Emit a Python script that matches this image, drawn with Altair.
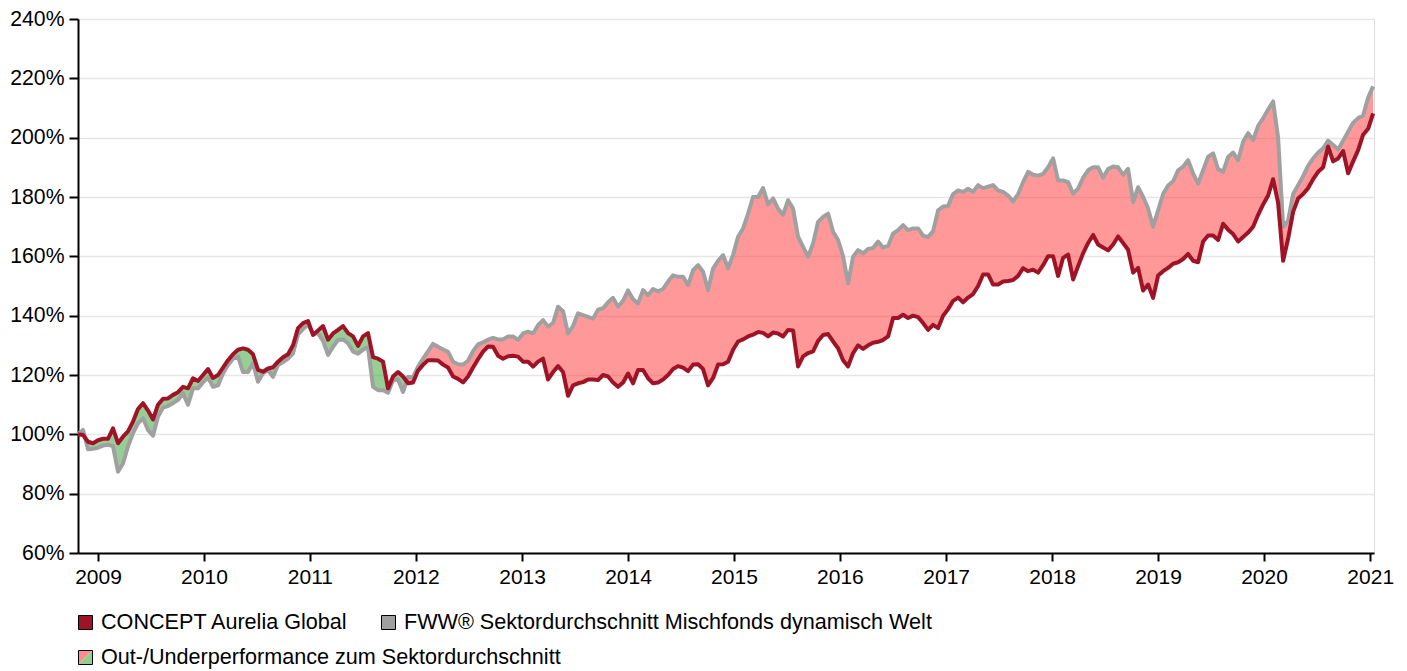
import altair as alt
import pandas as pd
import numpy as np

# ---- data (index levels in %) ----
START_DATE = "2008-10-24"
END_DATE = "2021-01-11"

fund = [  # CONCEPT Aurelia Global
    100, 99.8, 97.5, 97, 98, 98.5, 98.5, 102, 97, 99.2, 101, 104.3, 108.5, 110.5, 108, 105, 110, 112, 112.1, 113.3,
    114.2, 116, 115.5, 118.9, 118, 120, 122, 119, 120, 122.5, 125, 127, 128.5, 129, 128.5, 127, 121.7, 121.1, 122.2, 122.6,
    124.5, 126, 127, 130,
    135.8, 137.5, 138.2, 133.5, 135, 136.5, 131.9, 134, 135.2, 136.5, 134.1, 133, 129.8, 133, 134.1, 126, 125.5, 124.5, 115.5, 119.5,
    121, 119.5, 117.2, 117.5, 121.5, 123.4, 125, 125, 124.9, 123.5, 122.5, 119.5, 118.7, 117.5, 119.5, 122.5, 125.3, 127.9, 129.6, 129.5,
    126.5, 125.5, 126.3, 126.5,
    126.2, 124.5, 124.5, 122.8, 124.5, 125.5, 118.5, 121, 123, 121, 113, 116.5, 117.2, 117.6, 118.5, 118.5, 118.3, 120, 119.5, 117.5,
    116, 117.5, 120.5, 117.2, 121.7, 121.7, 118.9, 117.2, 117.5, 118.5, 120, 122, 123, 122.5, 121.3, 123.5, 123.6, 122, 116.5, 119,
    123.5, 123.6, 124.5, 128.5,
    131.3, 132, 133, 133.6, 134.5, 134.2, 133, 134.3, 134, 133, 135.2, 135, 122.9, 126.3, 127.4, 128, 131.5, 133.5, 133.8, 131.3,
    129, 125, 122.9, 127.4, 130, 128.8, 130, 130.9, 131.2, 131.8, 133, 139.2, 139.2, 140.3, 139.2, 140, 139.5, 137.5, 135.2, 136.9,
    135.8, 140, 142.2, 145,
    146.1, 144.5, 146.1, 147.3, 150, 153.9, 153.9, 150.5, 150.5, 151.5, 151.7, 152, 153.4, 156, 155, 155.5, 154.5, 157, 160, 160,
    153.4, 159.5, 160.6, 152.2, 156.7, 161, 164.5, 167.2, 164, 163, 162, 164, 166.7, 164.5, 162.2, 154.5, 156.1, 148.5, 150.5, 146,
    153.5, 155, 156.1, 157.5,
    158, 159.1, 160.8, 158.5, 158, 165, 167, 167, 165.5, 171, 169, 167.5, 165, 166.5, 168, 170, 174, 177.5, 180.5, 186,
    178, 158.5, 166, 175, 179.5, 181, 183, 186, 188.5, 190, 197, 192, 193, 195.5, 188, 192, 195.8, 201, 203, 208.2,
]

sector = [  # FWW Sektordurchschnitt Mischfonds dynamisch Welt
    100, 101.5, 95, 95.1, 95.5, 96.2, 96.5, 96, 87.4, 90.2, 95.9, 100.4, 103.7, 105.4, 101.5, 99.5, 106, 109, 109.5, 110.5,
    111.6, 113.8, 110, 115.5, 115.5, 117.5, 119.2, 116, 116.5, 120.5, 123.4, 125.5, 126.2, 121, 121, 124, 117.7, 120.6, 121.7, 119.4,
    123.4, 124.3, 125.5, 127.3,
    133.6, 135.5, 137, 134, 134, 131.5, 126.8, 129.5, 131.8, 132, 130.7, 127.9, 127.2, 128.5, 129.3, 116, 114.9, 114.9, 114, 118.2,
    118.5, 114.3, 119.4, 119.2, 122.8, 125.5, 128, 130.5, 129.5, 128.6, 127.8, 124.5, 123.6, 123.5, 124.8, 128, 130.3, 131, 131.9, 132.5,
    132, 132, 133, 133,
    131.8, 134, 134.6, 134, 136.8, 138.5, 136.3, 137.5, 143, 141.5, 134, 136.5, 140.8, 140.2, 139.6, 139, 142, 142.5, 144.5, 146,
    143, 145, 148.5, 145.5, 144.1, 148.6, 146.9, 149, 148.2, 149, 151.5, 153.6, 153.1, 153.1, 150.3, 155.3, 157, 154.8, 148.6, 155.9,
    158.5, 160.4, 156, 160.5,
    166.6, 169.4, 174.4, 180, 180, 183, 177.5, 179.5, 176, 174, 178.9, 176.1, 166.6, 163.2, 159.9, 164.3, 171.6, 173.3, 174.4, 168.3,
    165.5, 160, 150.9, 159.9, 162.1, 161, 162.5, 162.8, 165, 163, 163.5, 167.7, 168.8, 170.5, 168.8, 169.4, 169.4, 167, 166.5, 168.5,
    175.5, 176.8, 177, 181,
    182.2, 181.7, 182.8, 181.7, 184, 183, 183.5, 184, 182.2, 181.7, 180.5, 178.5, 181, 185, 188.5, 187.5, 187.2, 187.8, 190, 193,
    185.6, 185.6, 185, 181.1, 182.8, 186.5, 189, 190, 190, 186.5, 189.4, 190.3, 190, 187.5, 189.5, 178.3, 183.3, 180, 176.1, 170,
    175.5, 181, 183.9, 185.3,
    189, 190.2, 192.4, 187.9, 184.5, 189, 193.6, 194.7, 189.4, 188.5, 193.5, 195, 192.4, 198.6, 201.5, 199.2, 204, 206.5, 209.5, 212.2,
    200, 170, 172, 181, 184, 187, 190.5, 193, 195, 196.4, 199, 197.5, 196, 199, 202, 205, 206.6, 207.5, 213.5, 217.3,
]

year_ticks = [f"{y}-01-01" for y in range(2009, 2022)]
y_ticks = [60, 80, 100, 120, 140, 160, 180, 200, 220, 240]

label_fund = "CONCEPT Aurelia Global"
label_sector = "FWW® Sektordurchschnitt Mischfonds dynamisch Welt"
label_diff = "Out-/Underperformance zum Sektordurchschnitt"

# ---- build tables ----
dates = pd.date_range(START_DATE, END_DATE, periods=len(fund))
lines = pd.DataFrame({"date": dates, "fund": fund, "sector": sector})

# band between the two lines, split at crossings
ts = dates.asi8.astype(float)
rows = []
n = len(fund)
for i in range(n):
    rows.append((ts[i], fund[i], sector[i]))
    if i < n - 1:
        d0 = fund[i] - sector[i]
        d1 = fund[i + 1] - sector[i + 1]
        if d0 * d1 < 0:
            f = d0 / (d0 - d1)
            tc = ts[i] + f * (ts[i + 1] - ts[i])
            vc = fund[i] + f * (fund[i + 1] - fund[i])
            rows.append((tc, vc, vc))
band = pd.DataFrame(rows, columns=["t", "fund", "sector"])
band["date"] = pd.to_datetime(band["t"].astype("int64"))
band["hi"] = np.maximum(band["fund"], band["sector"])
band = band[["date", "fund", "sector", "hi"]]

RED = "#9e1426"
GRAY = "#a0a0a0"
FONT = "Liberation Sans"
LEG_FS = 21.6

xscale = alt.Scale(domain=["2008-10-24", "2021-01-14"], nice=False)
yscale = alt.Scale(domain=[60, 240], nice=False, zero=False)

xaxis = alt.Axis(values=year_ticks, format="%Y", title=None, grid=False,
                 labelFontSize=21, labelFont=FONT, labelColor="black",
                 tickSize=8, tickWidth=2, tickColor="black",
                 domainColor="black", domainWidth=2, labelPadding=5,
                 labelFlush=False, labelOverlap=False)
yaxis = alt.Axis(values=y_ticks, title=None, labelExpr="datum.value + '%'",
                 labelFontSize=21.2, labelFont=FONT, labelColor="black",
                 tickSize=9, tickWidth=2, tickColor="black",
                 domainColor="black", domainWidth=2, labelPadding=5,
                 grid=True, gridColor="#e6e6e6", gridWidth=1.5)

base_band = alt.Chart(band)
red_band = base_band.mark_area(color="#ff3333", opacity=0.5).encode(
    x=alt.X("date:T", scale=xscale, axis=xaxis),
    y=alt.Y("fund:Q", scale=yscale, axis=yaxis),
    y2="hi:Q",
)
green_band = base_band.mark_area(color="#2ca02c", opacity=0.5).encode(
    x=alt.X("date:T", scale=xscale),
    y=alt.Y("sector:Q", scale=yscale),
    y2="hi:Q",
)

base_lines = alt.Chart(lines)
sector_line = base_lines.mark_line(color=GRAY, strokeWidth=4, strokeJoin="round").encode(
    x=alt.X("date:T", scale=xscale), y=alt.Y("sector:Q", scale=yscale))
fund_line = base_lines.mark_line(color=RED, strokeWidth=4, strokeJoin="round").encode(
    x=alt.X("date:T", scale=xscale), y=alt.Y("fund:Q", scale=yscale))

# ---- legend (drawn below the plot) ----
one = alt.Chart(pd.DataFrame({"k": [0]}))

def square(x0, y0, fill):
    return one.mark_rect(fill=fill, stroke="black", strokeWidth=1).encode(
        x=alt.value(x0), x2=alt.value(x0 + 14), y=alt.value(y0), y2=alt.value(y0 + 14))

def label(x0, y0, txt):
    return one.mark_text(text=txt, align="left", baseline="middle", fontSize=LEG_FS,
                         font=FONT, color="black").encode(x=alt.value(x0), y=alt.value(y0))

leg = [
    square(0.5, 596.5, RED), label(23, 604, label_fund),
    square(303.5, 596.5, GRAY), label(326, 604, label_sector),
    one.mark_point(shape="M -1 -1 L 1 -1 L -1 1 Z", filled=True, size=196, color="#ff8f8f",
                   opacity=1).encode(x=alt.value(7.5), y=alt.value(638.5)),
    one.mark_point(shape="M 1 -1 L 1 1 L -1 1 Z", filled=True, size=196, color="#8fd08f",
                   opacity=1).encode(x=alt.value(7.5), y=alt.value(638.5)),
    one.mark_rect(fillOpacity=0, stroke="black", strokeWidth=1).encode(
        x=alt.value(0.5), x2=alt.value(14.5), y=alt.value(631.5), y2=alt.value(645.5)),
    label(23, 639, label_diff),
]

chart = alt.layer(red_band, green_band, sector_line, fund_line, *leg).properties(
    width=1296, height=534,
    autosize=alt.AutoSizeParams(type="none"),
    padding={"left": 70, "top": 11, "right": 25, "bottom": 118},
).configure_view(strokeWidth=0).configure(background="white")

chart.save("out.html", embed_options={"renderer": "svg", "actions": False})
